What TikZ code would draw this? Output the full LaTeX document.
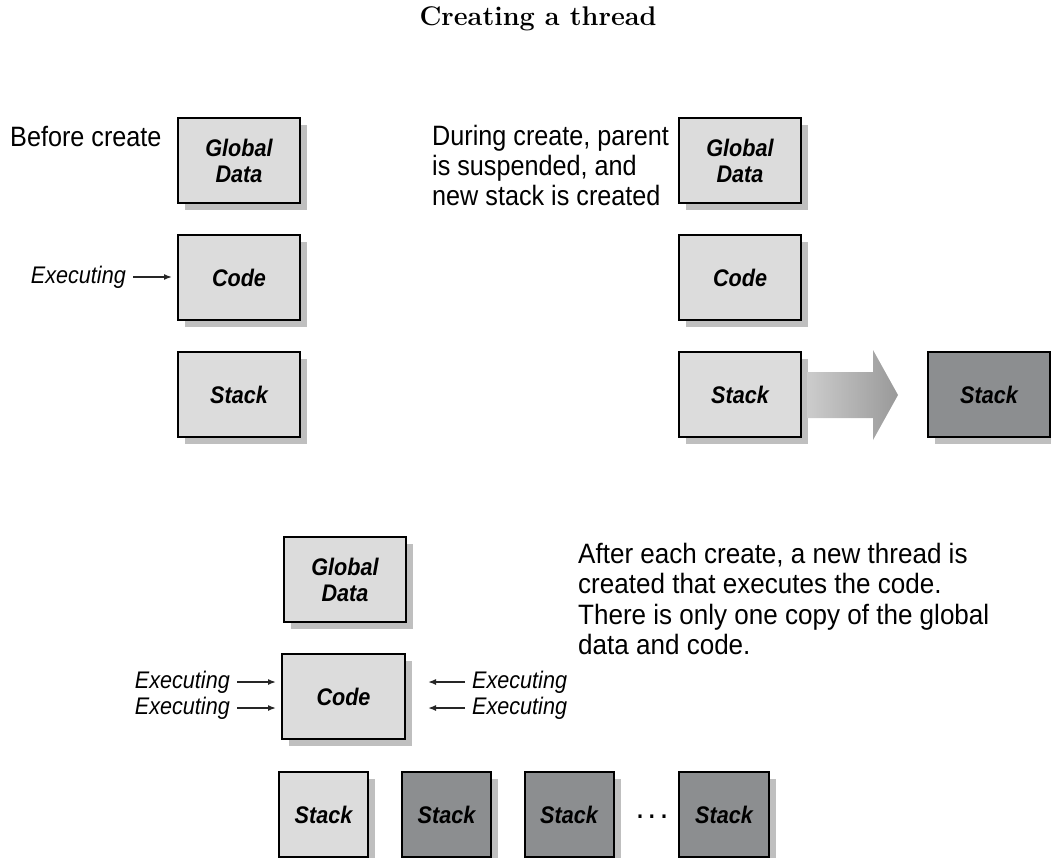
\documentclass[tikz,border=0pt]{standalone}
\usepackage{fontspec}
\setmainfont{Liberation Sans}[FakeStretch=0.9]
\newfontfamily\lmr{Latin Modern Roman}
\usetikzlibrary{arrows.meta,shadows,shapes.arrows}
\definecolor{lightbox}{HTML}{DCDCDC}
\definecolor{darkbox}{HTML}{8C8E90}
\tikzset{
  mbox/.style={draw=black, line width=2pt, fill=lightbox, minimum width=122pt, minimum height=85pt,
    font=\fontsize{24}{24}\selectfont\bfseries\itshape, align=center, inner sep=0pt,
    drop shadow={shadow xshift=7pt, shadow yshift=-7pt, fill=black!50, opacity=0.5}},
  dbox/.style={mbox, fill=darkbox},
  note/.style={font=\fontsize{28}{30}\selectfont, align=left, inner sep=0pt},
  exe/.style={font=\fontsize{24}{24}\selectfont\itshape, inner sep=0pt},
  earrow/.style={line width=1.5pt, draw=black!85, -{Latex[length=8pt,width=6pt]}}
}
\begin{document}
\begin{tikzpicture}[x=1pt,y=-1pt]
\useasboundingbox (0,0) rectangle (1051,858);
% title
\node[font=\lmr\bfseries\fontsize{27}{30}\selectfont] (title) at (538,19) {Creating a thread};

% top-left group
\node[note, anchor=west] (before) at (10,137) {Before create};
\node[mbox] (g1) at (239,160.5) {Global\\[2pt]Data};
\node[mbox] (c1) at (239,277.5) {Code};
\node[mbox] (s1) at (239,394.5) {Stack};
\node[exe, anchor=east] (e1) at (126,277) {Executing};
\draw[earrow] ([xshift=7pt]e1.east) -- ([xshift=-5pt]c1.west |- e1.east);

% top-right group
\node[note, anchor=north west] (during) at (432,125) {During create, parent\\is suspended, and\\new stack is created};
\node[mbox] (g2) at (740,160.5) {Global\\[2pt]Data};
\node[mbox] (c2) at (740,277.5) {Code};
\node[mbox] (s2) at (740,394.5) {Stack};
\node[dbox] (s3) at (989,394.5) {Stack};
\shade[left color=black!20, right color=black!40, draw=none]
  ([xshift=5pt]s2.east |- 0,372) -- (873,372) -- (873,350) -- (898,395) -- (873,440) -- (873,418) -- ([xshift=5pt]s2.east |- 0,418) -- cycle;

% bottom group
\node[mbox] (g4) at (345,579.5) {Global\\[2pt]Data};
\node[mbox, minimum width=123pt] (c4) at (343.5,696.5) {Code};
\node[note, anchor=north west, font=\fontsize{28}{30.5}\selectfont\addfontfeature{FakeStretch=0.93}] (after) at (578,543) {After each create, a new thread is\\created that executes the code.\\There is only one copy of the global\\data and code.};
\node[exe, anchor=east] (e41) at (230,682) {Executing};
\node[exe, anchor=east] (e42) at (230,708) {Executing};
\node[exe, anchor=west] (e43) at (472,682) {Executing};
\node[exe, anchor=west] (e44) at (472,708) {Executing};
\draw[earrow] ([xshift=7pt]e41.east) -- ([xshift=-5pt]c4.west |- e41.east);
\draw[earrow] ([xshift=7pt]e42.east) -- ([xshift=-5pt]c4.west |- e42.east);
\draw[earrow] ([xshift=-7pt]e43.west) -- ([xshift=22pt]c4.east |- e43.west);
\draw[earrow] ([xshift=-7pt]e44.west) -- ([xshift=22pt]c4.east |- e44.west);

\node[mbox, minimum width=89pt] (s41) at (323.5,814.5) {Stack};
\node[dbox, minimum width=89pt] (s42) at (446.5,814.5) {Stack};
\node[dbox, minimum width=89pt] (s43) at (569,814.5) {Stack};
\node[font=\fontsize{24}{24}\selectfont\bfseries, inner sep=0pt] (dots) at (652,817) {.\hspace{6pt}.\hspace{6pt}.};
\node[dbox, minimum width=90pt] (s44) at (724,814.5) {Stack};
\end{tikzpicture}
\end{document}
